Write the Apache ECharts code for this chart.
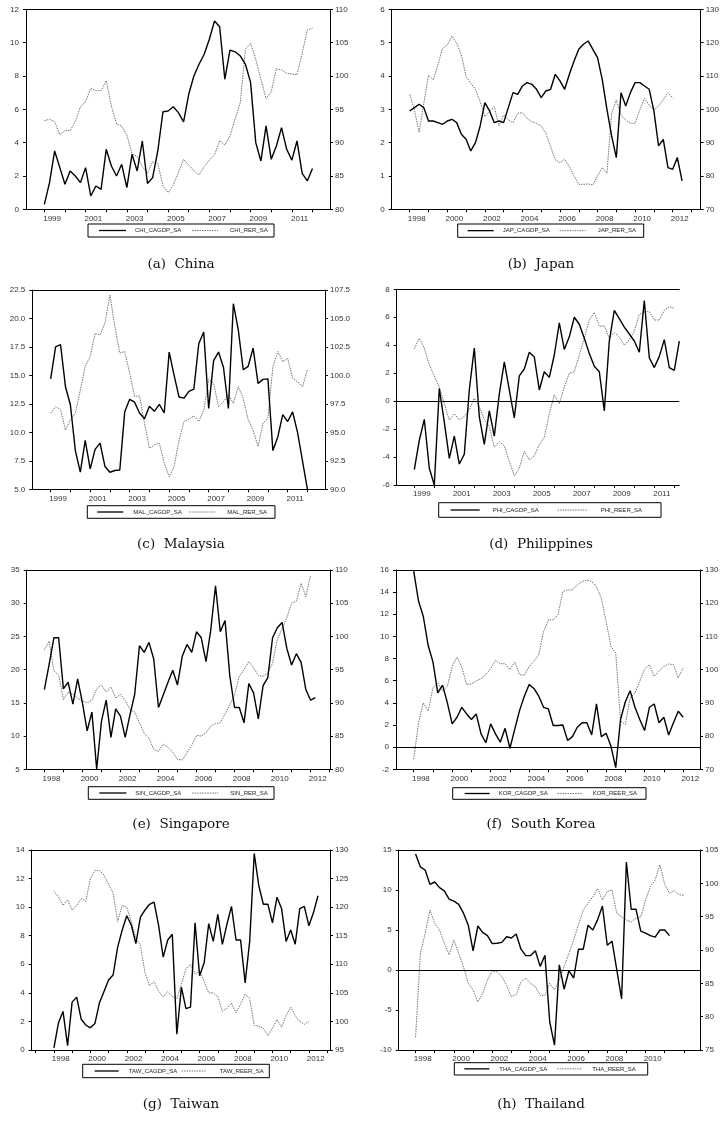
<!DOCTYPE html>
<html>
<head>
<meta charset="utf-8">
<script src="https://cdn.jsdelivr.net/npm/echarts@6/dist/echarts.min.js"></script>
<style>
  html, body { margin: 0; padding: 0; background: #fff; }
  #chart { width: 722px; height: 1121px; }
</style>
</head>
<body>
<div id="chart"></div>
<script>
// Quarterly observations: current account / GDP (CAGDP) and real exchange rate (RER / REER), seasonally adjusted.
const chiCagdp = [0.3, 1.6, 3.5, 2.5, 1.5, 2.3, 2.0, 1.6, 2.5, 0.8, 1.4, 1.2, 3.6, 2.6, 2.0, 2.7, 1.3, 3.3, 2.3, 4.1,
  1.55, 1.9, 3.5, 5.85, 5.9, 6.15, 5.8, 5.25, 6.9, 8.0, 8.7, 9.3, 10.2, 11.3, 10.95, 7.8, 9.55, 9.45, 9.2, 8.7,
  7.6, 4.0, 2.9, 5.0, 3.0, 3.8, 4.9, 3.6, 2.95, 4.1, 2.15, 1.7, 2.45];
const chiRer = [93.3, 93.5, 93.15, 91.15, 91.8, 91.8, 93.15, 95.4, 96.15, 98.15, 97.8, 97.8, 99.3, 95.5, 92.8, 92.5,
  91.15, 88.4, 87.9, 86.4, 85.4, 87.15, 86.9, 83.5, 82.5, 83.65, 85.5, 87.5, 86.65, 85.8, 85.15, 86.4, 87.4, 88.15,
  90.3, 89.65, 91.0, 93.5, 96.0, 104.0, 104.9, 102.5, 99.5, 96.6, 97.6, 101.1, 100.9, 100.4, 100.3, 100.15, 103.4,
  106.9, 107.15];

const japCagdp = [2.95, 3.05, 3.15, 3.05, 2.65, 2.65, 2.6, 2.55, 2.65, 2.7, 2.6, 2.25, 2.1, 1.75, 2.0, 2.5, 3.2, 2.95,
  2.6, 2.65, 2.6, 3.05, 3.5, 3.45, 3.7, 3.8, 3.75, 3.6, 3.35, 3.55, 3.6, 4.05, 3.85, 3.6, 4.05, 4.45, 4.8, 4.95, 5.05,
  4.8, 4.55, 3.9, 3.0, 2.2, 1.55, 3.5, 3.1, 3.5, 3.8, 3.8, 3.7, 3.6, 2.95, 1.9, 2.1, 1.25, 1.2, 1.55, 0.85];
const japRer = [104.5, 99.8, 93.0, 101.8, 110.3, 108.8, 113.3, 118.3, 119.3, 122.0, 119.8, 116.3, 109.8, 107.8, 106.0,
  102.3, 97.8, 99.3, 100.8, 95.0, 98.3, 96.8, 96.0, 98.8, 99.0, 97.3, 96.3, 95.8, 95.0, 92.8, 88.8, 84.8, 84.0, 85.0,
  82.8, 80.0, 77.5, 77.5, 77.6, 77.3, 80.0, 82.5, 80.8, 98.8, 102.8, 98.3, 96.8, 95.8, 95.8, 99.8, 103.3, 101.3, 99.8,
  101.0, 102.8, 105.0, 103.3];

const malCagdp = [14.7, 17.5, 17.7, 14.0, 12.4, 8.4, 6.5, 9.3, 6.8, 8.5, 9.05, 7.0, 6.5, 6.65, 6.7, 11.8, 12.9, 12.65,
  11.7, 11.2, 12.3, 11.85, 12.45, 11.7, 17.05, 15.0, 13.1, 13.0, 13.6, 13.8, 17.8, 18.8, 12.1, 16.3, 17.05, 15.7, 12.1,
  21.3, 19.0, 15.5, 15.8, 17.4, 14.3, 14.65, 14.7, 8.4, 9.6, 11.55, 10.95, 11.8, 10.0, 7.5, 5.0];
const malRer = [96.7, 97.25, 97.0, 95.2, 96.1, 96.7, 98.7, 100.8, 101.65, 103.7, 103.55, 104.6, 107.05, 104.3, 101.95,
  102.1, 100.2, 98.15, 98.2, 95.8, 93.6, 93.9, 94.05, 92.3, 91.1, 92.0, 94.3, 95.95, 96.15, 96.45, 95.95, 96.95, 99.65,
  99.3, 97.25, 97.7, 98.3, 97.55, 99.0, 98.0, 96.1, 95.2, 93.75, 95.8, 96.25, 100.75, 102.1, 101.2, 101.5, 99.75, 99.45,
  99.0, 100.5];

const phiCagdp = [-4.9, -2.8, -1.3, -4.8, -6.0, 0.9, -1.5, -4.1, -2.5, -4.5, -3.8, 0.8, 3.8, -1.1, -3.1, -0.7, -2.5,
  0.5, 2.8, 0.8, -1.2, 1.8, 2.3, 3.5, 3.15, 0.8, 2.1, 1.7, 3.3, 5.6, 3.7, 4.6, 6.0, 5.5, 4.5, 3.4, 2.5, 2.1, -0.7, 4.3,
  6.5, 5.9, 5.3, 4.8, 4.3, 3.5, 7.2, 3.1, 2.4, 3.2, 4.4, 2.4, 2.2, 4.3];
const phiReer = [3.75, 4.5, 3.8, 2.6, 1.8, 1.0, -0.2, -1.35, -0.9, -1.35, -1.1, -0.6, 0.2, -0.4, -1.3, -1.8, -3.3,
  -2.9, -3.2, -4.3, -5.35, -4.8, -3.6, -4.2, -3.9, -3.1, -2.6, -0.9, 0.45, -0.2, 1.0, 2.0, 2.1, 3.3, 4.5, 5.8, 6.35,
  5.35, 5.4, 4.5, 4.9, 4.6, 4.0, 4.4, 5.0, 6.2, 6.4, 6.4, 5.8, 5.8, 6.5, 6.75, 6.65];

const sinCagdp = [17.0, 20.8, 24.8, 24.8, 17.1, 18.1, 14.8, 18.6, 15.0, 10.8, 13.6, 5.0, 12.2, 15.4, 9.8, 14.1, 13.0,
  9.8, 13.2, 16.3, 23.6, 22.6, 24.1, 21.6, 14.3, 16.2, 18.1, 19.9, 17.7, 22.0, 23.8, 22.6, 25.7, 24.8, 21.2, 26.0, 32.6,
  25.7, 27.4, 19.1, 14.3, 14.3, 12.0, 17.9, 16.5, 12.6, 17.6, 18.8, 24.8, 26.3, 27.1, 23.2, 20.7, 22.4, 21.1, 17.0,
  15.4, 15.8];
const sinRer = [98.0, 99.3, 94.8, 94.2, 90.5, 91.6, 91.3, 90.7, 90.3, 90.0, 90.4, 92.1, 92.7, 91.6, 92.4, 90.7, 91.3,
  90.4, 89.0, 88.6, 87.0, 85.4, 84.7, 83.0, 82.7, 83.8, 83.3, 82.6, 81.5, 81.4, 82.5, 83.6, 85.1, 85.0, 85.5, 86.5, 86.9,
  87.0, 88.3, 89.7, 91.2, 94.0, 95.0, 96.2, 95.3, 94.1, 94.0, 94.5, 96.0, 99.5, 101.2, 102.8, 105.0, 105.3, 108.0,
  106.0, 109.2];

const korCagdp = [15.9, 13.2, 11.8, 9.2, 7.7, 4.9, 5.6, 4.0, 2.1, 2.7, 3.6, 3.0, 2.5, 3.0, 1.2, 0.4, 2.1, 1.2, 0.45,
  1.7, -0.1, 1.6, 3.3, 4.6, 5.65, 5.3, 4.6, 3.6, 3.45, 1.95, 1.95, 2.0, 0.6, 0.95, 1.8, 2.2, 2.2, 1.1, 3.9, 0.95, 1.25,
  0.1, -1.85, 2.5, 4.1, 5.1, 3.6, 2.5, 1.5, 3.6, 3.9, 2.2, 2.7, 1.1, 2.2, 3.25, 2.7];
const korReer = [73.0, 84.0, 90.0, 87.5, 94.5, 96.0, 93.5, 95.0, 101.0, 103.8, 100.8, 95.5, 95.7, 96.6, 97.3, 98.5,
  100.3, 102.8, 101.8, 101.8, 100.0, 102.3, 98.5, 98.3, 101.0, 102.5, 104.5, 111.5, 115.0, 115.0, 116.5, 123.5, 124.0,
  124.0, 125.5, 126.5, 127.0, 126.5, 125.0, 121.5, 114.5, 107.0, 105.0, 84.5, 83.5, 91.5, 93.0, 96.5, 100.2, 101.5,
  98.0, 99.5, 101.0, 101.7, 101.5, 97.5, 100.5];

const tawCagdp = [0.15, 1.9, 2.7, 0.3, 3.35, 3.7, 2.15, 1.75, 1.55, 1.85, 3.3, 4.1, 4.9, 5.25, 7.2, 8.4, 9.4, 8.75,
  7.45, 9.3, 9.8, 10.2, 10.35, 8.7, 6.5, 7.7, 8.1, 1.1, 4.4, 2.9, 3.0, 8.9, 5.2, 6.1, 8.85, 7.6, 9.5, 7.4, 8.8, 10.05,
  7.7, 7.7, 4.7, 7.6, 13.75, 11.5, 10.2, 10.2, 8.9, 10.7, 9.9, 7.6, 8.4, 7.4, 9.9, 10.05, 8.7, 9.6, 10.8];
const tawReer = [122.8, 121.8, 120.3, 121.3, 119.5, 120.3, 121.5, 121.0, 125.0, 126.4, 126.4, 125.6, 124.0, 122.5,
  117.5, 120.3, 120.0, 117.5, 114.5, 113.3, 108.5, 106.2, 107.0, 105.3, 104.3, 105.2, 104.4, 104.0, 106.5, 109.2, 110.0,
  108.3, 108.8, 107.0, 105.0, 105.0, 104.3, 101.8, 102.3, 103.2, 101.5, 103.0, 104.8, 104.0, 99.3, 99.2, 98.8, 97.5,
  98.8, 100.3, 99.0, 101.0, 102.5, 101.0, 100.0, 99.5, 100.0];

const thaCagdp = [14.5, 12.9, 12.5, 10.7, 11.0, 10.3, 9.9, 8.85, 8.6, 8.2, 7.1, 5.6, 2.4, 5.5, 4.7, 4.3, 3.3, 3.35,
  3.45, 4.15, 4.0, 4.5, 2.6, 1.8, 1.8, 2.4, 0.45, 1.85, -6.5, -9.4, 0.65, -2.4, -0.1, -1.0, 2.6, 2.6, 5.6, 5.0, 6.3,
  8.0, 3.1, 3.6, 0.0, -3.6, 13.5, 7.6, 7.6, 4.85, 4.6, 4.3, 4.1, 5.0, 5.0, 4.3];
const thaReer = [76.9, 89.5, 92.5, 96.0, 94.0, 93.0, 91.0, 89.3, 91.5, 89.5, 87.5, 85.0, 84.0, 82.2, 83.5, 85.5, 86.8,
  86.8, 86.0, 84.7, 83.0, 83.3, 85.2, 85.8, 85.0, 84.5, 83.2, 83.2, 85.0, 84.0, 85.5, 87.5, 89.5, 91.5, 93.8, 96.0,
  97.0, 98.0, 99.2, 97.5, 98.8, 99.0, 95.5, 95.0, 94.5, 94.2, 94.8, 95.0, 97.5, 99.5, 100.5, 102.8, 99.8, 98.5, 98.9,
  98.3, 98.2];

// Year labels shown under each time axis
const oddYears = [1999, 2001, 2003, 2005, 2007, 2009, 2011];
const evenYears = [1998, 2000, 2002, 2004, 2006, 2008, 2010, 2012];
const evenYearsTo2010 = [1998, 2000, 2002, 2004, 2006, 2008, 2010];

// Layout of each panel (pixel boxes) and its axis scales
const panels = [
  { caption: '(a)  China', cap: [181, 264], grid: [26, 9.3, 304, 200], xRange: [1998.11, 2012.85], labels: oddYears,
    yL: [0, 12, 2], yR: [80, 110, 5], start: 1999,
    names: ['CHI_CAGDP_SA', 'CHI_RER_SA'], data: [chiCagdp, chiRer],
    legend: [88, 224, 186, 13], lay: [11, 38, 47, 104, 130, 142] },
  { caption: '(b)  Japan', cap: [541, 264], grid: [391.7, 9.3, 309.3, 200], xRange: [1997.04, 2013.49], labels: evenYears,
    yL: [0, 6, 1], yR: [70, 130, 10], start: 1998,
    names: ['JAP_CAGDP_SA', 'JAP_RER_SA'], data: [japCagdp, japRer],
    legend: [457.7, 224, 186, 13.3], lay: [10, 36, 45, 102, 128, 140] },
  { caption: '(c)  Malaysia', cap: [181, 544], grid: [32.3, 290, 292.7, 199.3], xRange: [1998.07, 2012.89], labels: oddYears,
    yL: [5, 22.5, 2.5], yR: [90, 107.5, 2.5], dec: 1, start: 1999,
    names: ['MAL_CAGDP_SA', 'MAL_RER_SA'], data: [malCagdp, malRer],
    legend: [87.3, 505.7, 187.7, 12.6], lay: [10, 36, 46, 102, 128, 140] },
  { caption: '(d)  Philippines', cap: [541, 544], grid: [396.7, 289.3, 282.6, 195.7], xRange: [1998.12, 2012.25], labels: oddYears,
    yL: [-6, 8, 2], yR: null, zero: true, start: 1999,
    names: ['PHI_CAGDP_SA', 'PHI_REER_SA'], data: [phiCagdp, phiReer],
    legend: [438.7, 502.7, 222.3, 14.6], lay: [12, 41, 54, 119, 149, 162] },
  { caption: '(e)  Singapore', cap: [181, 824], grid: [26.7, 570, 303.3, 199.3], xRange: [1997.07, 2013.02], labels: evenYears,
    yL: [5, 35, 5], yR: [80, 110, 5], start: 1998,
    names: ['SIN_CAGDP_SA', 'SIN_RER_SA'], data: [sinCagdp, sinRer],
    legend: [88.3, 786.7, 185.7, 12.6], lay: [11, 38, 47, 104, 130, 142] },
  { caption: '(f)  South Korea', cap: [541, 824], grid: [396, 570, 304, 199.3], xRange: [1997.08, 2012.88], labels: evenYears,
    yL: [-2, 16, 2], yR: [70, 130, 10], zero: true, start: 1998,
    names: ['KOR_CAGDP_SA', 'KOR_REER_SA'], data: [korCagdp, korReer],
    legend: [452.7, 787.7, 193.3, 11.6], lay: [12, 37, 46, 105, 130, 140] },
  { caption: '(g)  Taiwan', cap: [181, 1104], grid: [31.7, 850, 298.3, 200], xRange: [1996.78, 2013.16], labels: evenYears,
    yL: [0, 14, 2], yR: [95, 130, 5], start: 1998,
    names: ['TAW_CAGDP_SA', 'TAW_REER_SA'], data: [tawCagdp, tawReer],
    legend: [82.7, 1064.3, 186.6, 13.4], lay: [12, 36, 46, 99, 124, 137] },
  { caption: '(h)  Thailand', cap: [541, 1104], grid: [398.7, 850, 301.3, 200], xRange: [1997.12, 2012.84], labels: evenYearsTo2010,
    yL: [-10, 15, 5], yR: [75, 105, 5], zero: true, start: 1998,
    names: ['THA_CAGDP_SA', 'THA_REER_SA'], data: [thaCagdp, thaReer],
    legend: [454.3, 1062.7, 193.4, 12.3], lay: [10, 35, 45, 103, 128, 138] }
];

const AXIS_FONT = '"Liberation Sans", Arial, sans-serif';
const LABEL_SHIFT = 0.375; // year labels sit 1.5 quarters right of the year tick
const SOLID = { color: '#000', width: 1.4 };
const DOTTED = { color: '#6e6e6e', width: 1, type: [1.4, 1.1] };

function makeY(g, position, r, dec) {
  return {
    type: 'value', gridIndex: g, position: position,
    min: r[0], max: r[1], interval: r[2],
    axisLine: { show: true, onZero: false, lineStyle: { color: '#000', width: 1 } },
    axisTick: { show: true, length: 3, lineStyle: { color: '#000' } },
    axisLabel: {
      show: true, fontSize: 8, color: '#333', fontFamily: AXIS_FONT,
      margin: position === 'left' ? 7 : 5,
      formatter: v => dec ? v.toFixed(dec) : String(v)
    },
    splitLine: { show: false }
  };
}

const quarterPoints = (vals, start) => vals.map((v, i) => [start + i / 4, v]);

const grids = [], xAxes = [], yAxes = [], series = [], elements = [];

panels.forEach((p, g) => {
  grids.push({ left: p.grid[0], top: p.grid[1], width: p.grid[2], height: p.grid[3], show: false });

  const tickYears = [];
  for (let y = Math.ceil(p.xRange[0]); y <= Math.floor(p.xRange[1]); y++) tickYears.push(y);

  const xb = xAxes.length;
  xAxes.push({
    type: 'value', gridIndex: g, position: 'bottom', min: p.xRange[0], max: p.xRange[1],
    axisLine: { show: true, onZero: false, lineStyle: { color: '#000', width: 1 } },
    axisTick: { show: true, length: 3, customValues: tickYears, lineStyle: { color: '#000' } },
    axisLabel: {
      show: true, customValues: p.labels.map(y => y + LABEL_SHIFT),
      formatter: v => String(Math.round(v - LABEL_SHIFT)),
      fontSize: 8, color: '#333', fontFamily: AXIS_FONT, margin: 5
    },
    splitLine: { show: false }
  });
  xAxes.push({
    type: 'value', gridIndex: g, position: 'top', min: p.xRange[0], max: p.xRange[1],
    axisLine: { show: true, onZero: false, lineStyle: { color: '#000', width: 1 } },
    axisTick: { show: false }, axisLabel: { show: false }, splitLine: { show: false }
  });

  const yl = yAxes.length;
  yAxes.push(makeY(g, 'left', p.yL, p.dec));
  let yr = yl;
  if (p.yR) { yr = yAxes.length; yAxes.push(makeY(g, 'right', p.yR, p.dec)); }

  const main = {
    type: 'line', name: p.names[0], xAxisIndex: xb, yAxisIndex: yl,
    data: quarterPoints(p.data[0], p.start), symbol: 'none', showSymbol: false,
    lineStyle: SOLID, clip: true, z: 3
  };
  if (p.zero) {
    main.markLine = {
      silent: true, symbol: 'none', label: { show: false },
      lineStyle: { color: '#000', width: 1, type: 'solid' },
      data: [{ yAxis: 0 }]
    };
  }
  series.push(main);
  series.push({
    type: 'line', name: p.names[1], xAxisIndex: xb, yAxisIndex: yr,
    data: quarterPoints(p.data[1], p.start), symbol: 'none', showSymbol: false,
    lineStyle: DOTTED, clip: true, z: 2
  });

  // Boxed key under the panel
  const [lx, ly, lw, lh] = p.legend;
  const cy = ly + lh / 2;
  const L = p.lay;
  const keyText = (x, text) => ({
    type: 'text', x: lx + x, y: cy,
    style: { text: text, fill: '#222', font: '6px ' + AXIS_FONT,
      align: 'left', verticalAlign: 'middle', textAlign: 'left', textVerticalAlign: 'middle' }
  });
  elements.push({
    type: 'group', children: [
      { type: 'rect', shape: { x: lx, y: ly, width: lw, height: lh }, style: { fill: '#fff', stroke: '#000', lineWidth: 1 } },
      { type: 'line', shape: { x1: lx + L[0], y1: cy, x2: lx + L[1], y2: cy }, style: { stroke: '#000', lineWidth: 1.3 } },
      keyText(L[2], p.names[0]),
      { type: 'line', shape: { x1: lx + L[3], y1: cy, x2: lx + L[4], y2: cy }, style: { stroke: '#6e6e6e', lineWidth: 1, lineDash: [1.4, 1.1] } },
      keyText(L[5], p.names[1])
    ]
  });

  // Panel caption
  elements.push({
    type: 'text', x: p.cap[0], y: p.cap[1],
    style: { text: p.caption, fill: '#111', font: '13.5px "DejaVu Serif", serif',
      align: 'center', verticalAlign: 'middle', textAlign: 'center', textVerticalAlign: 'middle' }
  });
});

const chart = echarts.init(document.getElementById('chart'), null, { renderer: 'canvas', width: 722, height: 1121 });
chart.setOption({
  animation: false,
  backgroundColor: '#fff',
  grid: grids,
  xAxis: xAxes,
  yAxis: yAxes,
  series: series,
  graphic: { elements: elements }
});
</script>
</body>
</html>
